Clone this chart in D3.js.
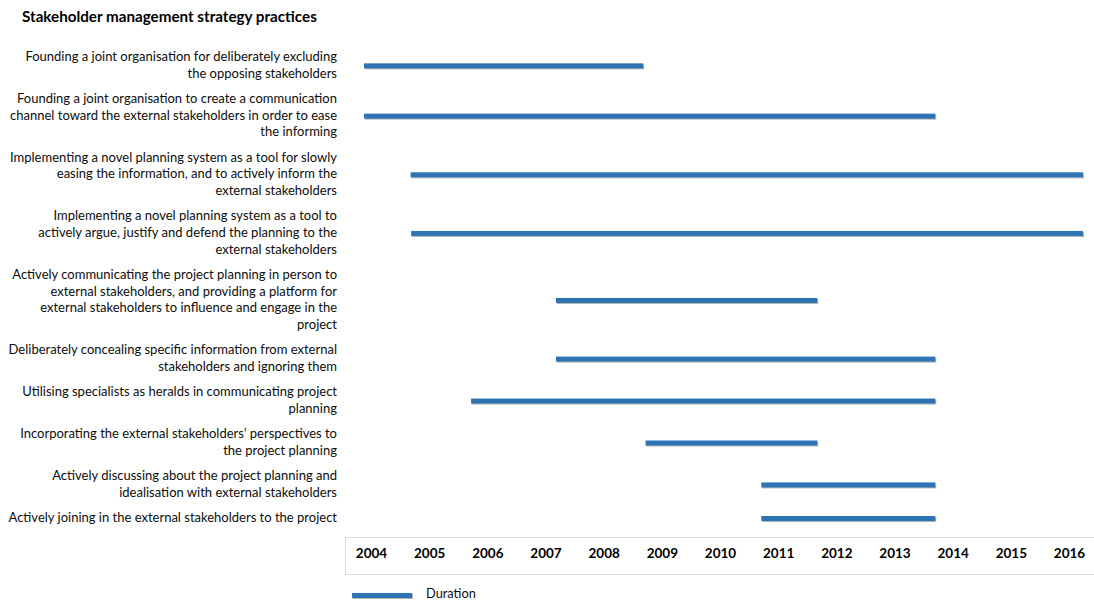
<!DOCTYPE html>
<html>
<head>
<meta charset="utf-8">
<script src="https://cdn.jsdelivr.net/npm/d3@7"></script>
<style>
  html, body { margin: 0; padding: 0; background: #fff; }
  svg { display: block; }
  text { font-family: Lato, "Liberation Sans", sans-serif; fill: #000; }
</style>
</head>
<body>
<svg id="chart" width="1094" height="601"></svg>
<script>
// ---- data ----
const title = "Stakeholder management strategy practices";
const categories = [
  "Founding a joint organisation for deliberately excluding\nthe opposing stakeholders",
  "Founding a joint organisation to create a communication\nchannel toward the external stakeholders in order to ease\nthe informing",
  "Implementing a novel planning system as a tool for slowly\neasing the information, and to actively inform the\nexternal stakeholders",
  "Implementing a novel planning system as a tool to\nactively argue, justify and defend the planning to the\nexternal stakeholders",
  "Actively communicating the project planning in person to\nexternal stakeholders, and providing a platform for\nexternal stakeholders to influence and engage in the\nproject",
  "Deliberately concealing specific information from external\nstakeholders and ignoring them",
  "Utilising specialists as heralds in communicating project\nplanning",
  "Incorporating the external stakeholders\u2019 perspectives to\nthe project planning",
  "Actively discussing about the project planning and\nidealisation with external stakeholders",
  "Actively joining in the external stakeholders to the project"
];
const startYear = [2003.88, 2003.88, 2004.68, 2004.69, 2007.18, 2007.18, 2005.72, 2008.72, 2010.71, 2010.71];
const endYear   = [2008.68, 2013.70, 2016.24, 2016.24, 2011.67, 2013.70, 2013.70, 2011.67, 2013.70, 2013.70];
const yearTicks = [2004, 2005, 2006, 2007, 2008, 2009, 2010, 2011, 2012, 2013, 2014, 2015, 2016];
const legendLabel = "Duration";

// ---- layout ----
const svg = d3.select("#chart");
const barColor = "#2e74b5";

const x = d3.scaleLinear().domain([2004, 2016]).range([371, 1069]);

// vertical layout: label blocks stacked by their line counts
const lines = categories.map(c => c.split("\n"));
const gapUnits = 0.51;
const starts = [];
let acc = 0;
lines.forEach((ls) => { starts.push(acc); acc += ls.length + gapUnits; });
const y = d3.scaleLinear().domain([0, starts[starts.length - 1]]).range([56, 517]);

// title
svg.append("text")
  .attr("x", 22).attr("y", 22)
  .style("font-weight", "bold").style("font-size", "15.2px")
  .text(title);

// category labels
const labelG = svg.append("g");
lines.forEach((ls, i) => {
  ls.forEach((t, k) => {
    labelG.append("text")
      .attr("x", 337).attr("y", y(starts[i] + k))
      .attr("text-anchor", "end").attr("dominant-baseline", "central")
      .style("font-size", "13px").style("fill", "#0d0d0d")
      .text(t);
  });
});

// bars
const data = categories.map((c, i) => ({ c, s: startYear[i], e: endYear[i], yc: y(starts[i] + (lines[i].length - 1) / 2) + 1.5 }));
const barH = 5;
svg.append("g").selectAll("rect.shadow").data(data).join("rect")
  .attr("class", "shadow")
  .attr("x", d => x(d.s) + 1).attr("y", d => d.yc - barH / 2 + 1)
  .attr("width", d => x(d.e) - x(d.s)).attr("height", barH)
  .attr("fill", "#9e9e9e").attr("opacity", 0.8);
svg.append("g").selectAll("rect.bar").data(data).join("rect")
  .attr("class", "bar")
  .attr("x", d => x(d.s)).attr("y", d => d.yc - barH / 2)
  .attr("width", d => x(d.e) - x(d.s)).attr("height", barH)
  .attr("fill", barColor);

// axis box
svg.append("rect")
  .attr("x", 345.5).attr("y", 537.5).attr("width", 760).attr("height", 37)
  .attr("fill", "none").attr("stroke", "#dcdcdc").attr("stroke-width", 1);

const axis = d3.axisBottom(x).tickValues(yearTicks).tickFormat(d3.format("d")).tickSize(0).tickPadding(0);
const axG = svg.append("g").attr("transform", "translate(0,553)").call(axis);
axG.select(".domain").remove();
axG.selectAll("text")
  .attr("dy", "0.35em")
  .style("font-family", "Lato, 'Liberation Sans', sans-serif")
  .style("font-weight", "bold").style("font-size", "13.5px").style("fill", "#000");

// legend
svg.append("rect").attr("x", 353).attr("y", 594).attr("width", 60).attr("height", 5).attr("fill", "#9e9e9e").attr("opacity", 0.8);
svg.append("rect").attr("x", 352).attr("y", 593).attr("width", 60).attr("height", 5).attr("fill", barColor);
svg.append("text").attr("x", 426).attr("y", 593)
  .attr("dominant-baseline", "central")
  .style("font-size", "12.8px").style("fill", "#0d0d0d")
  .text(legendLabel);
</script>
</body>
</html>
